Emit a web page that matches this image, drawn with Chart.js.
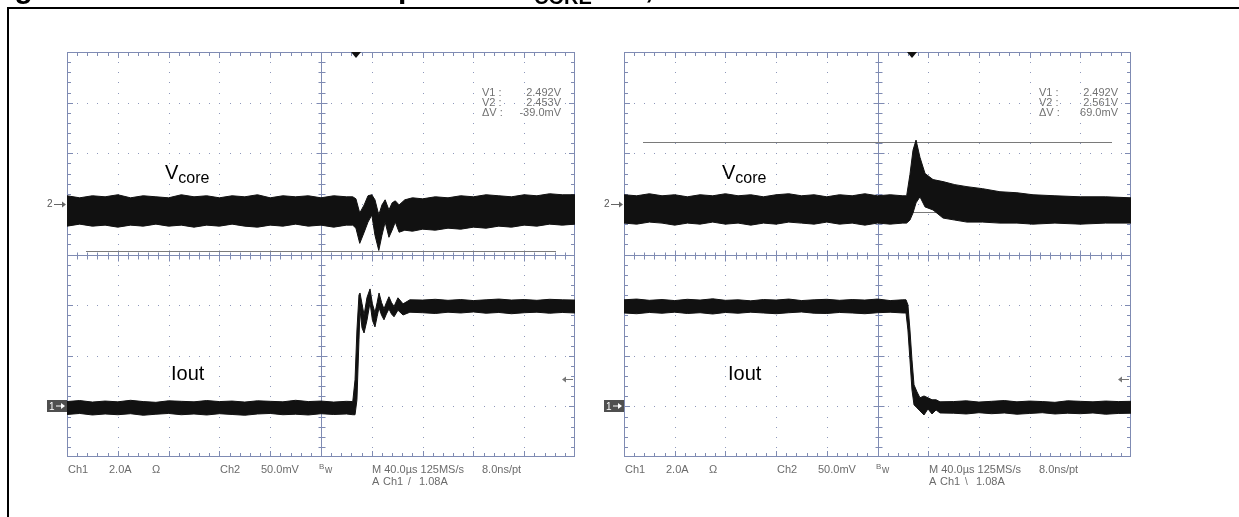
<!DOCTYPE html>
<html>
<head>
<meta charset="utf-8">
<script src="https://cdn.jsdelivr.net/npm/chart.js@4.4.1/dist/chart.umd.min.js"></script>
<style>
html, body { margin: 0; padding: 0; background: #fff; }
#page { position: relative; width: 1239px; height: 517px; overflow: hidden; font-family: Arial, "Liberation Sans", sans-serif; }
#frame { position: absolute; left: 7px; top: 7px; width: 1250px; height: 530px; border-top: 2px solid #000; border-left: 2px solid #000; }
canvas { position: absolute; top: 0; }
#scopeL { left: 0; }
#scopeR { left: 590px; }
.t { position: absolute; white-space: pre; color: #6b6b6b; }
</style>
</head>
<body>
<div id="page">
  <div id="frame"></div>
  <canvas id="scopeL" width="590" height="517"></canvas>
  <canvas id="scopeR" width="649" height="517"></canvas>
</div>
<script>
// time base: 40 us/div, 10 div -> 0..400 us
const preTimes = [0, 10, 20, 30, 40, 50, 60, 70, 80, 90, 100, 110, 120, 130, 140, 150, 160, 170, 180, 190, 200, 210, 220];

// --- left scope: load step up ---
const vcoreL_t = preTimes.concat([225, 227.5, 230.5, 234, 237, 240, 242.5, 245.5, 248, 250.5, 253.5, 256, 258.5, 261.5, 266,
  272, 280, 290, 300, 310, 320, 330, 340, 350, 360, 370, 380, 390, 400]);
const vcoreL_hi = [2.508, 2.506, 2.508, 2.507, 2.509, 2.506, 2.508, 2.507, 2.506, 2.509, 2.507, 2.508, 2.506, 2.508, 2.507, 2.509, 2.506, 2.508, 2.507, 2.508, 2.506, 2.508, 2.507,
  2.507, 2.505, 2.491, 2.499, 2.508, 2.509, 2.504, 2.489, 2.499, 2.504, 2.494, 2.501, 2.503, 2.499, 2.504,
  2.506, 2.505, 2.507, 2.506, 2.508, 2.507, 2.509, 2.508, 2.507, 2.509, 2.508, 2.510, 2.509, 2.509];
const vcoreL_lo = [2.478, 2.480, 2.478, 2.479, 2.477, 2.479, 2.478, 2.480, 2.478, 2.479, 2.477, 2.479, 2.478, 2.480, 2.478, 2.477, 2.479, 2.478, 2.480, 2.478, 2.479, 2.477, 2.479,
  2.479, 2.476, 2.461, 2.472, 2.482, 2.489, 2.469, 2.454, 2.469, 2.482, 2.467, 2.474, 2.482, 2.472, 2.474,
  2.473, 2.475, 2.474, 2.476, 2.475, 2.477, 2.476, 2.478, 2.477, 2.479, 2.478, 2.480, 2.479, 2.480];

const ioutL_t = preTimes.concat([225, 226.8, 228.3, 229.9, 230.7, 232.3, 233.9, 236.2, 238.6, 240.5, 242.5, 244.2, 245.7, 247.7, 249.6,
  251.5, 253.5, 255.5, 257.5, 260.6, 264.6, 270, 280, 290, 300, 310, 320, 330, 340, 350, 360, 370, 380, 390, 400]);
const ioutL_hi = [0.19, 0.23, 0.17, 0.21, 0.18, 0.24, 0.19, 0.16, 0.22, 0.20, 0.18, 0.23, 0.19, 0.21, 0.17, 0.22, 0.20, 0.18, 0.24, 0.19, 0.21, 0.17, 0.20,
  0.19, 1.05, 3.02, 4.40, 4.48, 4.05, 3.61, 4.30, 4.64, 4.05, 3.70, 4.10, 4.48, 4.10, 3.85, 4.10, 4.33, 4.10, 3.95, 4.29, 4.05, 4.21,
  4.20, 4.23, 4.19, 4.22, 4.18, 4.21, 4.24, 4.20, 4.22, 4.19, 4.23, 4.21, 4.20];
const ioutL_lo = [-0.32, -0.28, -0.34, -0.30, -0.33, -0.29, -0.35, -0.31, -0.28, -0.33, -0.30, -0.34, -0.29, -0.32, -0.35, -0.30, -0.28, -0.33, -0.31, -0.34, -0.29, -0.32, -0.30,
  -0.33, -0.33, 0.26, 2.63, 3.81, 3.10, 2.90, 3.40, 4.10, 3.40, 3.14, 3.55, 3.90, 3.60, 3.42, 3.65, 3.85, 3.65, 3.54, 3.80, 3.61, 3.72,
  3.70, 3.67, 3.72, 3.69, 3.73, 3.68, 3.71, 3.66, 3.70, 3.72, 3.68, 3.71, 3.69];

// --- right scope: load step down ---
const vcoreR_t = preTimes.concat([223, 225.6, 228, 230.4, 233.5, 237.5, 243.8, 251.7, 261, 270.6, 283, 296.6, 310, 322.7, 340, 360, 380, 400]);
const vcoreR_hi = [2.509, 2.508, 2.510, 2.508, 2.509, 2.507, 2.509, 2.508, 2.510, 2.508, 2.509, 2.507, 2.509, 2.510, 2.508, 2.509, 2.507, 2.509, 2.508, 2.510, 2.508, 2.509, 2.508,
  2.508, 2.529, 2.553, 2.563, 2.546, 2.530, 2.524, 2.522, 2.519, 2.517, 2.515, 2.512, 2.511, 2.509, 2.508, 2.507, 2.507, 2.506];
const vcoreR_lo = [2.481, 2.480, 2.482, 2.481, 2.479, 2.481, 2.480, 2.482, 2.480, 2.481, 2.479, 2.481, 2.480, 2.482, 2.481, 2.480, 2.482, 2.480, 2.481, 2.479, 2.481, 2.480, 2.481,
  2.481, 2.484, 2.491, 2.501, 2.507, 2.497, 2.494, 2.486, 2.484, 2.482, 2.482, 2.481, 2.481, 2.480, 2.481, 2.480, 2.481, 2.481];

const ioutR_t = preTimes.concat([222.5, 224, 225.6, 227.2, 228.8, 231.2, 233.5, 236.7, 239.8, 243, 246.2, 249.3,
  260, 270, 280, 290, 300, 310, 320, 330, 340, 350, 360, 370, 380, 390, 400]);
const ioutR_hi = [4.21, 4.24, 4.19, 4.22, 4.18, 4.23, 4.20, 4.25, 4.19, 4.21, 4.17, 4.22, 4.20, 4.24, 4.18, 4.21, 4.23, 4.19, 4.22, 4.20, 4.24, 4.18, 4.21,
  4.21, 4.01, 3.02, 1.84, 0.85, 0.57, 0.34, 0.41, 0.34, 0.26, 0.26, 0.18,
  0.19, 0.22, 0.17, 0.20, 0.23, 0.18, 0.21, 0.19, 0.16, 0.22, 0.20, 0.18, 0.21, 0.19, 0.20];
const ioutR_lo = [3.69, 3.66, 3.71, 3.68, 3.72, 3.67, 3.70, 3.65, 3.71, 3.68, 3.72, 3.69, 3.66, 3.70, 3.73, 3.68, 3.67, 3.71, 3.69, 3.66, 3.70, 3.72, 3.69,
  3.69, 3.02, 1.84, 0.65, 0.06, -0.06, -0.18, -0.34, -0.10, -0.30, -0.14, -0.26,
  -0.27, -0.30, -0.25, -0.29, -0.26, -0.31, -0.28, -0.25, -0.30, -0.27, -0.29, -0.26, -0.31, -0.28, -0.27];

// cursors and readouts
const cursorsL = [2.492, 2.453];
const cursorsR = [2.492, 2.561];
const readoutNames = ['V1 :', 'V2 :', '\u0394V :'];
const readoutL = ['2.492V', '2.453V', '-39.0mV'];
const readoutR = ['2.492V', '2.561V', '69.0mV'];

const trigTime = 227.5;   // us
const trigLevel = 1.08;   // A
const ch2Ref = 2.5;       // V

const TRACE = '#111111';
const GRID = '#7f8bb3';
const DOTS = '#8e98bb';

function pts(t, v) { return t.map((x, i) => ({ x: x, y: v[i] })); }

function arrow(ctx, x0, x1, y, color) {
  const d = x1 > x0 ? 1 : -1;
  ctx.strokeStyle = color; ctx.fillStyle = color; ctx.lineWidth = 1;
  ctx.beginPath(); ctx.moveTo(x0, y + 0.5); ctx.lineTo(x1, y + 0.5); ctx.stroke();
  ctx.beginPath(); ctx.moveTo(x1 + d, y + 0.5); ctx.lineTo(x1 - 3 * d, y - 2.5); ctx.lineTo(x1 - 3 * d, y + 3.5); ctx.closePath(); ctx.fill();
}

const graticule = {
  id: 'graticule',
  beforeDatasetsDraw(chart, args, o) {
    const { ctx, chartArea: a, scales } = chart;
    const nx = 10, ny = 8, sub = 5;
    const dx = (a.right - a.left) / nx, dy = (a.bottom - a.top) / ny;
    ctx.save();
    // dotted division lines
    ctx.fillStyle = DOTS;
    for (let i = 1; i < nx; i++) {
      if (i === nx / 2) continue;
      const x = Math.round(a.left + i * dx);
      for (let k = 1; k < ny * sub; k++) ctx.fillRect(x, Math.round(a.top + k * dy / sub), 1, 1);
    }
    for (let j = 1; j < ny; j++) {
      if (j === ny / 2) continue;
      const y = Math.round(a.top + j * dy);
      for (let k = 1; k < nx * sub; k++) ctx.fillRect(Math.round(a.left + k * dx / sub), y, 1, 1);
    }
    // center cross and border, with minor ticks
    ctx.strokeStyle = GRID; ctx.lineWidth = 1;
    const cx = Math.round(a.left + 5 * dx) + 0.5, cy = Math.round(a.top + 4 * dy) + 0.5;
    ctx.beginPath();
    ctx.moveTo(cx, a.top); ctx.lineTo(cx, a.bottom);
    ctx.moveTo(a.left, cy); ctx.lineTo(a.right, cy);
    for (let k = 1; k < ny * sub; k++) {
      const y = Math.round(a.top + k * dy / sub) + 0.5, L = k % sub === 0 ? 5 : 3;
      ctx.moveTo(cx - L, y); ctx.lineTo(cx + L + 1, y);
      ctx.moveTo(a.left, y); ctx.lineTo(a.left + (k % sub === 0 ? 6 : 4), y);
      ctx.moveTo(a.right, y); ctx.lineTo(a.right - (k % sub === 0 ? 6 : 4), y);
    }
    for (let k = 1; k < nx * sub; k++) {
      const x = Math.round(a.left + k * dx / sub) + 0.5, L = k % sub === 0 ? 5 : 3;
      ctx.moveTo(x, cy - L); ctx.lineTo(x, cy + L + 1);
      ctx.moveTo(x, a.top); ctx.lineTo(x, a.top + (k % sub === 0 ? 6 : 4));
      ctx.moveTo(x, a.bottom); ctx.lineTo(x, a.bottom - (k % sub === 0 ? 6 : 4));
    }
    ctx.stroke();
    ctx.strokeRect(a.left + 0.5, a.top + 0.5, a.right - a.left - 1, a.bottom - a.top - 1);
    // voltage cursors
    ctx.strokeStyle = '#7a7a7a';
    ctx.beginPath();
    o.cursors.forEach(v => {
      const y = Math.round(scales.yV.getPixelForValue(v)) + 0.5;
      ctx.moveTo(a.left + 19, y); ctx.lineTo(a.right - 19, y);
    });
    ctx.stroke();
    ctx.restore();
  }
};

const markers = {
  id: 'markers',
  afterDraw(chart, args, o) {
    const { ctx, chartArea: a, scales } = chart;
    ctx.save();
    // trigger position
    const tx = Math.round(scales.x.getPixelForValue(o.trigTime));
    ctx.fillStyle = '#111';
    ctx.beginPath(); ctx.moveTo(tx - 5, a.top); ctx.lineTo(tx + 5, a.top); ctx.lineTo(tx, a.top + 6); ctx.closePath(); ctx.fill();
    // ch1 ground marker box
    const g1 = Math.round(scales.yI.getPixelForValue(0));
    ctx.fillStyle = '#4f4f4f';
    ctx.fillRect(a.left - 20, g1 - 6, 20, 12);
    arrow(ctx, a.left - 11, a.left - 3, g1 - 0.5, '#fff');
    // ch2 reference arrow
    const g2 = Math.round(scales.yV.getPixelForValue(o.ch2Ref));
    arrow(ctx, a.left - 13, a.left - 2, g2, '#666');
    // trigger level arrow
    const tl = Math.round(scales.yI.getPixelForValue(o.trigLevel));
    arrow(ctx, a.right - 2, a.right - 12, tl, '#777');
    ctx.restore();
  }
};

function makeScope(id, padLeft, padRight, vt, vhi, vlo, it, ihi, ilo, cursors) {
  const band = (label, data, axis, fill) => ({
    label: label, data: data, yAxisID: axis, borderColor: TRACE, backgroundColor: TRACE,
    borderWidth: 1, pointRadius: 0, fill: fill
  });
  return new Chart(document.getElementById(id), {
    type: 'line',
    data: {
      datasets: [
        band('Vcore max', pts(vt, vhi), 'yV', false),
        band('Vcore min', pts(vt, vlo), 'yV', '-1'),
        band('Iout max', pts(it, ihi), 'yI', false),
        band('Iout min', pts(it, ilo), 'yI', '-1')
      ]
    },
    options: {
      responsive: false, animation: false, events: [],
      layout: { padding: { left: padLeft, right: padRight, top: 52, bottom: 60 } },
      elements: { line: { tension: 0 } },
      plugins: {
        legend: { display: false }, tooltip: { enabled: false },
        graticule: { cursors: cursors },
        markers: { trigTime: trigTime, trigLevel: trigLevel, ch2Ref: ch2Ref }
      },
      scales: {
        x: { type: 'linear', min: 0, max: 400, display: false },
        yV: { type: 'linear', min: 2.25, max: 2.65, display: false },
        yI: { type: 'linear', min: -2, max: 14, display: false }
      }
    },
    plugins: [graticule, markers]
  });
}

const chartL = makeScope('scopeL', 67, 15, vcoreL_t, vcoreL_hi, vcoreL_lo, ioutL_t, ioutL_hi, ioutL_lo, cursorsL);
const chartR = makeScope('scopeR', 34, 108, vcoreR_t, vcoreR_hi, vcoreR_lo, ioutR_t, ioutR_hi, ioutR_lo, cursorsR);

// ---- text overlay ----
const page = document.getElementById('page');
function put(html, x, base, size, style) {
  const d = document.createElement('div');
  d.className = 't';
  d.innerHTML = html;
  d.style.left = x + 'px';
  d.style.top = (base - 0.8465 * size) + 'px';
  d.style.fontSize = size + 'px';
  d.style.lineHeight = size + 'px';
  if (style) Object.assign(d.style, style);
  page.appendChild(d);
  return d;
}

// figure caption, cut off by the top of the picture: only descenders show
const mctx = document.createElement('canvas').getContext('2d');
const FONT = 'Arial, "Liberation Sans", sans-serif';
function textW(s, size) { mctx.font = 'bold ' + size + 'px ' + FONT; return mctx.measureText(s).width; }
const capA = 'Figure 12. Load transient res', capB = 'ponse of V', capSub = 'CORE', capC = ' rail', capD = ', 0 A to 4 A';
const bold = { fontWeight: 'bold', color: '#000' };
put(capA, 398 - textW(capA, 30), -2, 30, bold);
put(capB, 398, -2, 30, Object.assign({ wordSpacing: ((534 - 398 - textW(capB, 30)) / 2) + 'px' }, bold));
put(capSub, 534, 4, 20, bold);
put(capC, 534 + textW(capSub, 20), -2, 30, bold);
put(capD, 645, -2, 30, bold);

function scopeText(chart, offset, readout, slope) {
  const a = chart.chartArea, x0 = offset + a.left;
  const black = { color: '#000' };
  put('V<span style="font-size:16px;position:relative;top:4px">core</span>', x0 + 98, 179, 20, black);
  put('Iout', x0 + 104, 380, 20, black);
  // cursor readout
  readoutNames.forEach((n, i) => {
    put(n, x0 + 415, 96 + i * 10, 11, { color: '#727272' });
    put(readout[i], x0 + 494, 96 + i * 10, 11, { color: '#727272', transform: 'translateX(-100%)' });
  });
  // channel markers
  const g2 = chart.scales.yV.getPixelForValue(ch2Ref);
  put('2', x0 - 20, g2 + 4, 10, { color: '#555' });
  const g1 = chart.scales.yI.getPixelForValue(0);
  put('1', x0 - 18, g1 + 4, 10, { color: '#fff' });
  // status line
  const s1 = 473, s2 = 485;
  [['Ch1', 1], ['2.0A', 42], ['\u03A9', 85], ['Ch2', 153], ['50.0mV', 194], ['M 40.0\u00B5s 125MS/s', 305], ['8.0ns/pt', 415]]
    .forEach(([s, dx]) => put(s, x0 + dx, s1, 11));
  put('B', x0 + 252, s1 - 3, 8);
  put('w', x0 + 258, s1, 10);
  put('A', x0 + 305, s2, 11);
  put('Ch1', x0 + 316, s2, 11);
  put(slope, x0 + 341, s2, 10);
  put('1.08A', x0 + 352, s2, 11);
}
scopeText(chartL, 0, readoutL, '/');
scopeText(chartR, 590, readoutR, '\\');
</script>
</body>
</html>
